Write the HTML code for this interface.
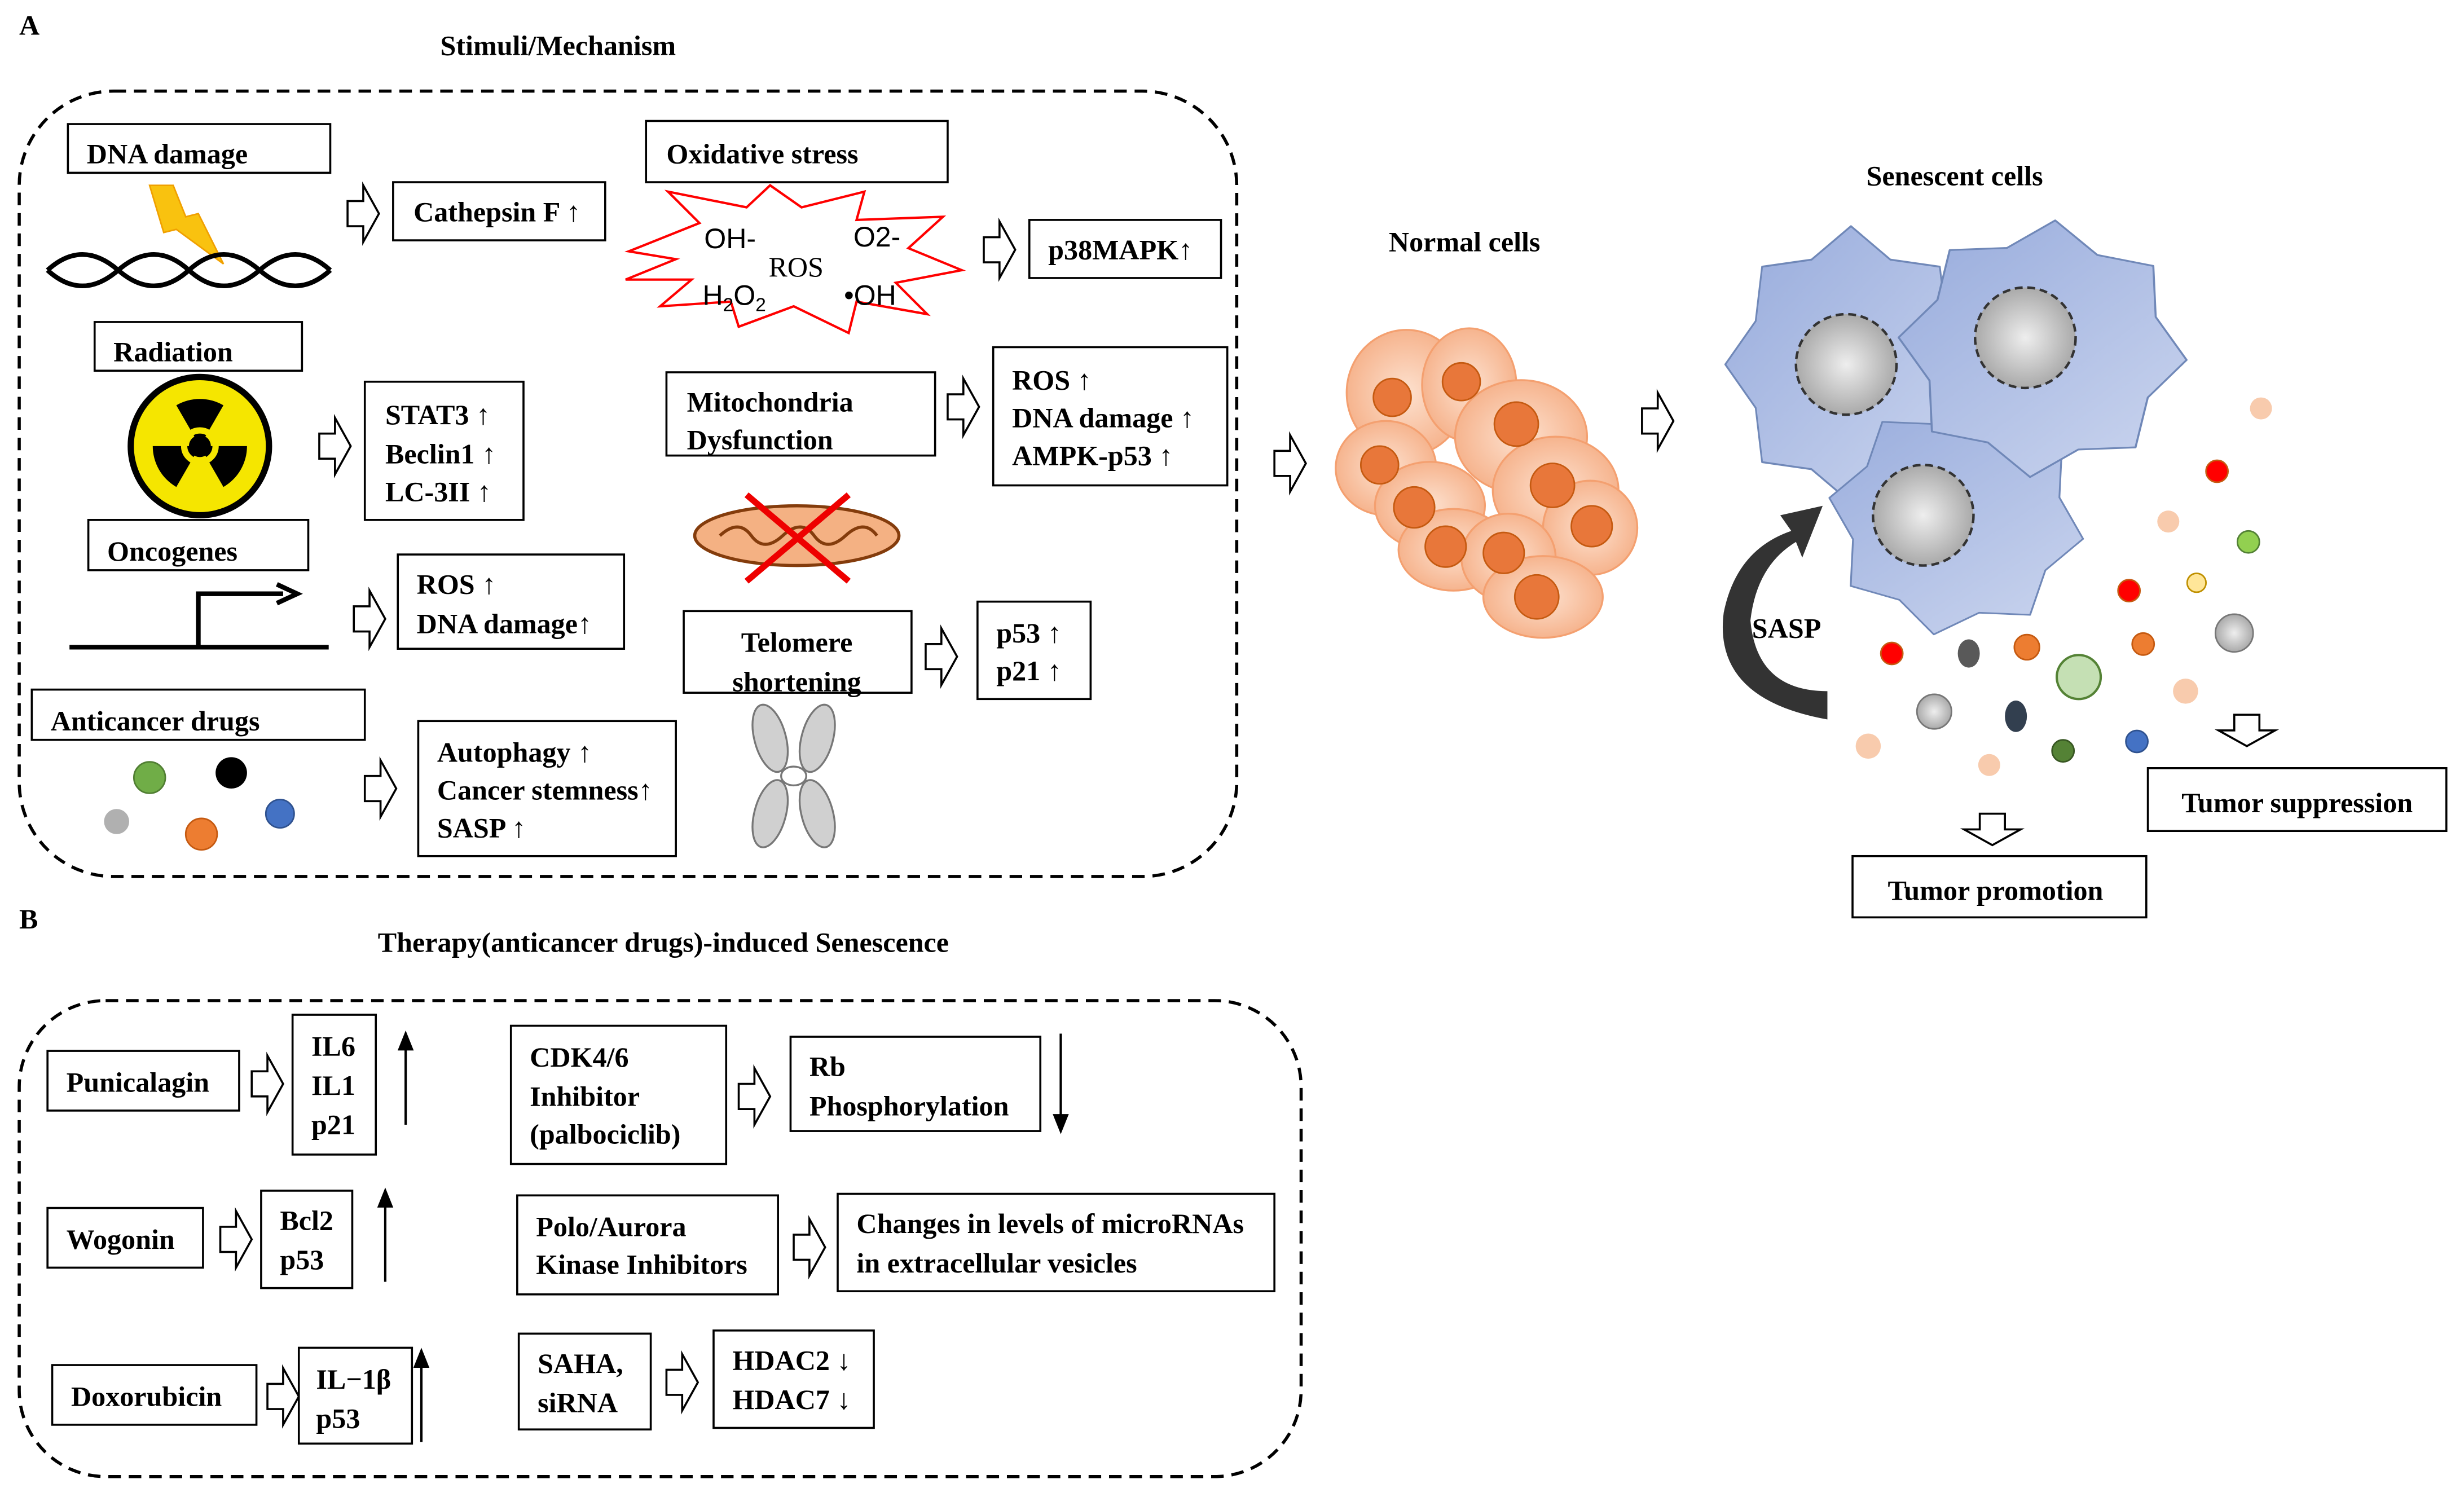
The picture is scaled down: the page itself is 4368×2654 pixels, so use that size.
<!DOCTYPE html>
<html><head><meta charset="utf-8"><style>
html,body{margin:0;padding:0;background:#fff}
svg{display:block}
text{font-family:"Liberation Serif",serif;font-weight:bold;font-size:18px;fill:#000}
</style></head><body>
<svg width="4368" height="2654" viewBox="0 0 1568 953" xmlns="http://www.w3.org/2000/svg">
<defs>
<path id="ha" d="M0,10 L10,10 L10,0 L20,18 L10,36 L10,26 L0,26 Z" fill="#fff" stroke="#000" stroke-width="1.3"/>
<path id="hd" d="M10,0 L26,0 L26,10 L36,10 L18,20 L0,10 L10,10 Z" fill="#fff" stroke="#000" stroke-width="1.3"/>
<polygon id="blob" points="1,0 .758,.314 .707,.707 .314,.758 0,1 -.314,.758 -.707,.707 -.758,.314 -1,0 -.758,-.314 -.707,-.707 -.314,-.758 0,-1 .314,-.758 .707,-.707 .758,-.314" stroke-linejoin="round"/>
<linearGradient id="bl" x1="0" y1="0" x2="1" y2="1"><stop offset="0" stop-color="#97abdc"/><stop offset="1" stop-color="#ccd6ef"/></linearGradient>
<radialGradient id="gn"><stop offset="0" stop-color="#eee"/><stop offset="1" stop-color="#aaa"/></radialGradient>
<radialGradient id="pk"><stop offset="0" stop-color="#fde1cf"/><stop offset="1" stop-color="#f6b48e"/></radialGradient>
</defs>

<text x="12" y="22">A</text>
<text x="355" y="35" text-anchor="middle">Stimuli/Mechanism</text>
<rect x="12" y="58" width="775" height="500" rx="60" fill="none" stroke="#000" stroke-width="2" stroke-dasharray="8,5"/>

<!-- DNA damage -->
<rect x="43" y="79" width="167" height="31" fill="#fff" stroke="#000" stroke-width="1.3"/>
<text x="55" y="104">DNA damage</text>
<polygon points="95,118 110,118 118,138 126,136 142,168 112,146 104,148" fill="#f9c20f" stroke="#f0a000"/>
<path d="M30,172 Q52,152 75,172 T120,172 T165,172 T210,172 M30,172 Q52,192 75,172 T120,172 T165,172 T210,172" fill="none" stroke="#000" stroke-width="3"/>
<use href="#ha" x="221" y="118"/>
<rect x="250" y="116" width="135" height="37" fill="#fff" stroke="#000" stroke-width="1.3"/>
<text x="263" y="141">Cathepsin F ↑</text>

<!-- Radiation -->
<rect x="60" y="205" width="132" height="31" fill="#fff" stroke="#000" stroke-width="1.3"/>
<text x="72" y="230">Radiation</text>
<circle cx="127" cy="284" r="44" fill="#f5e600" stroke="#000" stroke-width="4"/>
<g fill="#000"><circle cx="127" cy="284" r="7"/>
<path d="M127,284 L112,258 A30,30 0 0 1 142,258 Z"/>
<path d="M127,284 L157,284 A30,30 0 0 1 142,310 Z"/>
<path d="M127,284 L112,310 A30,30 0 0 1 97,284 Z"/></g>
<circle cx="127" cy="284" r="10" fill="none" stroke="#f5e600" stroke-width="4"/>
<circle cx="127" cy="284" r="6" fill="#000"/>
<use href="#ha" x="203" y="266"/>
<rect x="232" y="243" width="101" height="88" fill="#fff" stroke="#000" stroke-width="1.3"/>
<text x="245" y="270">STAT3 ↑</text><text x="245" y="295">Beclin1 ↑</text><text x="245" y="319">LC-3II ↑</text>

<!-- Oncogenes -->
<rect x="56" y="331" width="140" height="32" fill="#fff" stroke="#000" stroke-width="1.3"/>
<text x="68" y="357">Oncogenes</text>
<path d="M44,412 H209 M126,412 V378 H180" fill="none" stroke="#000" stroke-width="3"/>
<path d="M176,372 L189,378 L176,384" fill="none" stroke="#000" stroke-width="3"/>
<use href="#ha" x="225" y="376"/>
<rect x="253" y="353" width="144" height="60" fill="#fff" stroke="#000" stroke-width="1.3"/>
<text x="265" y="378">ROS ↑</text><text x="265" y="403">DNA damage↑</text>

<!-- Anticancer drugs -->
<rect x="20" y="439" width="212" height="32" fill="#fff" stroke="#000" stroke-width="1.3"/>
<text x="32" y="465">Anticancer drugs</text>
<circle cx="95" cy="495" r="10" fill="#70ad47" stroke="#507e32"/>
<circle cx="147" cy="492" r="10" fill="#000"/>
<circle cx="74" cy="523" r="8" fill="#b0b0b0"/>
<circle cx="128" cy="531" r="10" fill="#ed7d31" stroke="#c55a11"/>
<circle cx="178" cy="518" r="9" fill="#4472c4" stroke="#2f528f"/>
<use href="#ha" x="232" y="484"/>
<rect x="266" y="459" width="164" height="86" fill="#fff" stroke="#000" stroke-width="1.3"/>
<text x="278" y="485">Autophagy ↑</text><text x="278" y="509">Cancer stemness↑</text><text x="278" y="533">SASP ↑</text>

<!-- Oxidative stress -->
<rect x="411" y="77" width="192" height="39" fill="#fff" stroke="#000" stroke-width="1.3"/>
<text x="424" y="104">Oxidative stress</text>
<polygon points="400,160 445,142 425,122 475,132 490,118 510,132 550,122 545,140 600,138 578,158 612,172 570,180 590,200 545,192 540,212 505,195 470,208 465,192 420,195 440,178 398,178 430,165" fill="#fff" stroke="#f00" stroke-width="1.5"/>
<g font-family="Liberation Sans,sans-serif"><text x="448" y="158" style="font-family:'Liberation Sans',sans-serif;font-weight:normal">OH-</text>
<text x="543" y="157" style="font-family:'Liberation Sans',sans-serif;font-weight:normal">O2-</text>
<text x="489" y="176" style="font-weight:normal">ROS</text>
<text x="447" y="194" style="font-family:'Liberation Sans',sans-serif;font-weight:normal">H<tspan font-size="12" dy="4">2</tspan><tspan dy="-4">O</tspan><tspan font-size="12" dy="4">2</tspan></text>
<text x="537" y="194" style="font-family:'Liberation Sans',sans-serif;font-weight:normal">•OH</text></g>
<use href="#ha" x="626" y="141"/>
<rect x="655" y="140" width="122" height="37" fill="#fff" stroke="#000" stroke-width="1.3"/>
<text x="667" y="165">p38MAPK↑</text>

<!-- Mitochondria -->
<rect x="424" y="237" width="171" height="53" fill="#fff" stroke="#000" stroke-width="1.3"/>
<text x="437" y="262">Mitochondria</text><text x="437" y="286">Dysfunction</text>
<use href="#ha" x="603" y="241"/>
<rect x="632" y="221" width="149" height="88" fill="#fff" stroke="#000" stroke-width="1.3"/>
<text x="644" y="248">ROS ↑</text><text x="644" y="272">DNA damage ↑</text><text x="644" y="296">AMPK-p53 ↑</text>
<ellipse cx="507" cy="341" rx="65" ry="19" fill="#f4b183" stroke="#843c0c" stroke-width="2"/>
<path d="M458,341 Q470,330 478,341 T498,341 T518,341 T538,341 T558,341" fill="none" stroke="#843c0c" stroke-width="2"/>
<path d="M475,315 L540,370 M540,315 L475,370" stroke="#e00" stroke-width="4"/>

<!-- Telomere -->
<rect x="435" y="389" width="145" height="52" fill="#fff" stroke="#000" stroke-width="1.3"/>
<text x="507" y="415" text-anchor="middle">Telomere</text><text x="507" y="440" text-anchor="middle">shortening</text>
<use href="#ha" x="589" y="400"/>
<rect x="622" y="383" width="72" height="62" fill="#fff" stroke="#000" stroke-width="1.3"/>
<text x="634" y="409">p53 ↑</text><text x="634" y="433">p21 ↑</text>
<g fill="#d0d0d0" stroke="#777" stroke-width="1.2">
<ellipse cx="490" cy="470" rx="10" ry="22" transform="rotate(-15 490 470)"/>
<ellipse cx="520" cy="470" rx="10" ry="22" transform="rotate(15 520 470)"/>
<ellipse cx="490" cy="518" rx="10" ry="22" transform="rotate(15 490 518)"/>
<ellipse cx="520" cy="518" rx="10" ry="22" transform="rotate(-15 520 518)"/>
<ellipse cx="505" cy="494" rx="8" ry="6" fill="#fff"/></g>

<!-- middle arrow and normal cells -->
<use href="#ha" x="811" y="277"/>
<text x="932" y="160" text-anchor="middle">Normal cells</text>
<g fill="url(#pk)" stroke="#f4a070" stroke-width="1.2">
<ellipse cx="895" cy="250" rx="38" ry="40"/><ellipse cx="935" cy="245" rx="30" ry="36"/>
<ellipse cx="968" cy="278" rx="42" ry="36"/><ellipse cx="882" cy="298" rx="32" ry="30"/>
<ellipse cx="910" cy="322" rx="35" ry="28"/><ellipse cx="990" cy="312" rx="40" ry="34"/>
<ellipse cx="1012" cy="336" rx="30" ry="30"/><ellipse cx="925" cy="350" rx="35" ry="26"/>
<ellipse cx="960" cy="355" rx="30" ry="28"/><ellipse cx="982" cy="380" rx="38" ry="26"/></g>
<g fill="#e8773a" stroke="#c55a11" stroke-width="1">
<circle cx="886" cy="253" r="12"/><circle cx="930" cy="243" r="12"/><circle cx="965" cy="270" r="14"/>
<circle cx="878" cy="296" r="12"/><circle cx="900" cy="323" r="13"/><circle cx="988" cy="309" r="14"/>
<circle cx="1013" cy="335" r="13"/><circle cx="920" cy="348" r="13"/><circle cx="957" cy="352" r="13"/>
<circle cx="978" cy="380" r="14"/></g>
<use href="#ha" x="1045" y="250"/>

<!-- senescent cells -->
<text x="1244" y="118" text-anchor="middle">Senescent cells</text>
<g fill="url(#bl)" stroke="#7088b8">
<use href="#blob" transform="translate(1178,232) scale(80,88)" stroke-width="0.014"/>
<use href="#blob" transform="translate(1245,330) scale(82,75) rotate(10)" stroke-width="0.014"/>
<use href="#blob" transform="translate(1300,222) scale(92,82) rotate(5)" stroke-width="0.014"/>
</g>
<g fill="url(#gn)" stroke="#333" stroke-width="1.6" stroke-dasharray="5,3">
<circle cx="1175" cy="232" r="32"/><circle cx="1289" cy="215" r="32"/><circle cx="1224" cy="328" r="32"/></g>
<path d="M1163,458 Q1090,445 1097,390 Q1105,350 1140,338 L1133,328 L1160,322 L1147,355 L1143,345 Q1118,360 1114,395 Q1118,440 1163,440 Z" fill="#333"/>
<text x="1115" y="406">SASP</text>
<g stroke-width="1">
<circle cx="1439" cy="260" r="7" fill="#f8cbad"/><circle cx="1411" cy="300" r="7" fill="#f00" stroke="#c55a11"/>
<circle cx="1380" cy="332" r="7" fill="#f8cbad"/><circle cx="1431" cy="345" r="7" fill="#92d050" stroke="#538135"/>
<circle cx="1355" cy="376" r="7" fill="#f00" stroke="#c55a11"/><circle cx="1398" cy="371" r="6" fill="#ffe699" stroke="#bf9000"/>
<circle cx="1422" cy="403" r="12" fill="url(#gn)" stroke="#777"/><circle cx="1364" cy="410" r="7" fill="#ed7d31" stroke="#c55a11"/>
<circle cx="1391" cy="440" r="8" fill="#f8cbad"/><circle cx="1204" cy="416" r="7" fill="#f00" stroke="#c55a11"/>
<ellipse cx="1253" cy="416" rx="7" ry="9" fill="#595959"/><circle cx="1290" cy="412" r="8" fill="#ed7d31" stroke="#c55a11"/>
<circle cx="1323" cy="431" r="14" fill="#c5e0b4" stroke="#548235" stroke-width="1.5"/>
<circle cx="1231" cy="453" r="11" fill="url(#gn)" stroke="#777"/><ellipse cx="1283" cy="456" rx="7" ry="10" fill="#323f4f"/>
<circle cx="1189" cy="475" r="8" fill="#f8cbad"/><circle cx="1313" cy="478" r="7" fill="#548235" stroke="#385723"/>
<circle cx="1360" cy="472" r="7" fill="#4472c4" stroke="#2f528f"/><circle cx="1266" cy="487" r="7" fill="#f8cbad"/>
</g>
<use href="#hd" x="1412" y="455"/>
<use href="#hd" x="1250" y="518"/>
<rect x="1367" y="489" width="190" height="40" fill="#fff" stroke="#000" stroke-width="1.3"/>
<text x="1462" y="517" text-anchor="middle" font-size="20">Tumor suppression</text>
<rect x="1179" y="545" width="187" height="39" fill="#fff" stroke="#000" stroke-width="1.3"/>
<text x="1270" y="573" text-anchor="middle" font-size="20">Tumor promotion</text>

<!-- B -->
<text x="12" y="591">B</text>
<text x="422" y="606" text-anchor="middle">Therapy(anticancer drugs)-induced Senescence</text>
<rect x="12" y="637" width="816" height="303" rx="55" fill="none" stroke="#000" stroke-width="2" stroke-dasharray="8,5"/>

<rect x="30" y="669" width="122" height="38" fill="#fff" stroke="#000" stroke-width="1.3"/>
<text x="42" y="695">Punicalagin</text>
<use href="#ha" x="160" y="672"/>
<rect x="186" y="646" width="53" height="89" fill="#fff" stroke="#000" stroke-width="1.3"/>
<text x="198" y="672">IL6</text><text x="198" y="697">IL1</text><text x="198" y="722">p21</text>
<path d="M258,716 V664 M254,668 L258,658 L262,668 Z" stroke="#000" stroke-width="1.5"/>

<rect x="30" y="769" width="99" height="38" fill="#fff" stroke="#000" stroke-width="1.3"/>
<text x="42" y="795">Wogonin</text>
<use href="#ha" x="140" y="771"/>
<rect x="166" y="758" width="58" height="62" fill="#fff" stroke="#000" stroke-width="1.3"/>
<text x="178" y="783">Bcl2</text><text x="178" y="808">p53</text>
<path d="M245,816 V764 M241,768 L245,758 L249,768 Z" stroke="#000" stroke-width="1.5"/>

<rect x="33" y="869" width="130" height="38" fill="#fff" stroke="#000" stroke-width="1.3"/>
<text x="45" y="895">Doxorubicin</text>
<use href="#ha" x="170" y="871"/>
<rect x="190" y="858" width="72" height="61" fill="#fff" stroke="#000" stroke-width="1.3"/>
<text x="201" y="884">IL−1β</text><text x="201" y="909">p53</text>
<path d="M268,918 V866 M264,870 L268,860 L272,870 Z" stroke="#000" stroke-width="1.5"/>

<rect x="325" y="653" width="137" height="88" fill="#fff" stroke="#000" stroke-width="1.3"/>
<text x="337" y="679">CDK4/6</text><text x="337" y="704">Inhibitor</text><text x="337" y="728">(palbociclib)</text>
<use href="#ha" x="470" y="680"/>
<rect x="503" y="660" width="159" height="60" fill="#fff" stroke="#000" stroke-width="1.3"/>
<text x="515" y="685">Rb</text><text x="515" y="710">Phosphorylation</text>
<path d="M675,658 V712 M671,710 L675,720 L679,710 Z" stroke="#000" stroke-width="1.5"/>

<rect x="329" y="761" width="166" height="63" fill="#fff" stroke="#000" stroke-width="1.3"/>
<text x="341" y="787">Polo/Aurora</text><text x="341" y="811">Kinase Inhibitors</text>
<use href="#ha" x="505" y="776"/>
<rect x="533" y="760" width="278" height="62" fill="#fff" stroke="#000" stroke-width="1.3"/>
<text x="545" y="785">Changes in levels of microRNAs</text><text x="545" y="810">in extracellular vesicles</text>

<rect x="330" y="849" width="84" height="61" fill="#fff" stroke="#000" stroke-width="1.3"/>
<text x="342" y="874">SAHA,</text><text x="342" y="899">siRNA</text>
<use href="#ha" x="424" y="862"/>
<rect x="454" y="847" width="102" height="62" fill="#fff" stroke="#000" stroke-width="1.3"/>
<text x="466" y="872">HDAC2 ↓</text><text x="466" y="897">HDAC7 ↓</text>
</svg>
</body></html>
